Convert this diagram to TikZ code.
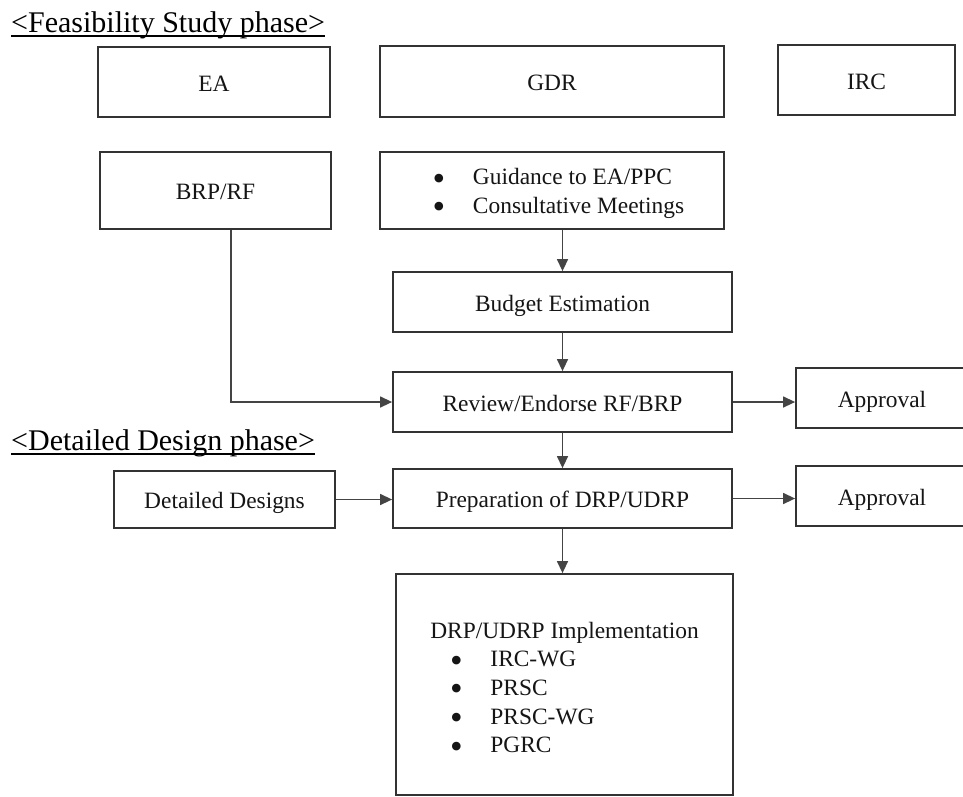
\documentclass[tikz,border=0pt]{standalone}
\usepackage{fontspec}
\setmainfont{Liberation Serif}
\usetikzlibrary{arrows.meta}

\definecolor{boxline}{HTML}{333333}
\definecolor{flowline}{HTML}{444444}
\definecolor{inktext}{HTML}{151515}

\newcommand{\boxfont}{\fontsize{23.4}{28.6}\selectfont}
\newcommand{\phasefont}{\fontsize{30}{36}\selectfont}
\newcommand{\itembul}{\makebox[8.2pt]{\smash{\raisebox{-5.5pt}{\fontsize{36}{0}\selectfont\textbullet}}}\hspace{30pt}}

\tikzset{
  >={Triangle[length=12pt,width=11pt]},
  box/.style={draw=boxline, line width=1.8pt, rectangle, inner sep=0pt,
              text=inktext, font=\boxfont},
  onebox/.style={box, text height=18pt, text depth=0pt},
  flow/.style={draw=flowline, line width=1.4pt},
  phase/.style={anchor=base west, inner sep=0pt, text=black, font=\phasefont}
}

\begin{document}
\begin{tikzpicture}[x=1pt, y=-1pt]
                \clip (0,0) rectangle (963,796);
                \fill [white] (0,0) rectangle (963,796);

                % feasibility study phase
                \node (fstitle) [phase] at (11,32) {<Feasibility Study phase>};
                \draw [line width=1.2pt] ([yshift=-4pt]fstitle.base west) -- ([yshift=-4pt]fstitle.base east);

                \node (ea) [onebox, minimum width=232, minimum height=70] at (214,82) {EA};
                \node (gdr) [onebox, minimum width=344, minimum height=71] at (552,81.5) {GDR};
                \node (irc) [onebox, minimum width=177, minimum height=70] at (866.5,80) {IRC};

                \node (brprf) [onebox, minimum width=231, minimum height=77] at (215.5,190.5) {BRP/RF};
                \node (guidance) [box, minimum width=344, minimum height=77, align=left] at (552,190.5)
                    {\rule{0pt}{22pt}\hspace*{15pt}\itembul Guidance to EA/PPC\\ \hspace*{15pt}\itembul Consultative Meetings};

                \node (budget) [onebox, minimum width=339, minimum height=60] at (562.5,302) {Budget Estimation};
                \node (review) [onebox, minimum width=339, minimum height=60] at (562.5,402) {Review/Endorse RF/BRP};
                \node (approvala) [onebox, minimum width=172, minimum height=60] at (882,398) {Approval};

                % detailed design phase
                \node (ddtitle) [phase] at (11,450) {<Detailed Design phase>};
                \draw [line width=1.2pt] ([yshift=-4pt]ddtitle.base west) -- ([yshift=-4pt]ddtitle.base east);

                \node (designs) [onebox, minimum width=221, minimum height=57] at (224.5,499.5) {Detailed Designs};
                \node (prep) [onebox, minimum width=339, minimum height=59] at (562.5,498.5) {Preparation of DRP/UDRP};
                \node (approvalb) [onebox, minimum width=172, minimum height=60] at (882,496) {Approval};

                \node (impl) [box, minimum width=337, minimum height=221, align=left] at (564.5,684.5)
                    {\rule{0pt}{22pt}DRP/UDRP Implementation\\
                     \hspace*{22pt}\itembul IRC-WG\\
                     \hspace*{22pt}\itembul PRSC\\
                     \hspace*{22pt}\itembul PRSC-WG\\
                     \hspace*{22pt}\itembul PGRC};

                \draw [flow, ->] (guidance.south -| budget.north) to (budget.north);
                \draw [flow, ->] (budget) to (review);
                \draw [flow, ->] ([xshift=15.5pt]brprf.south) |- (review.west);
                \draw [flow, ->] (review.east) to (review.east -| approvala.west);
                \draw [flow, ->] (review) to (prep);
                \draw [flow, ->] (designs.east) to (designs.east -| prep.west);
                \draw [flow, ->] (prep.east) to (prep.east -| approvalb.west);
                \draw [flow, ->] (prep.south) to (prep.south |- impl.north);

            \end{tikzpicture}
\end{document}
